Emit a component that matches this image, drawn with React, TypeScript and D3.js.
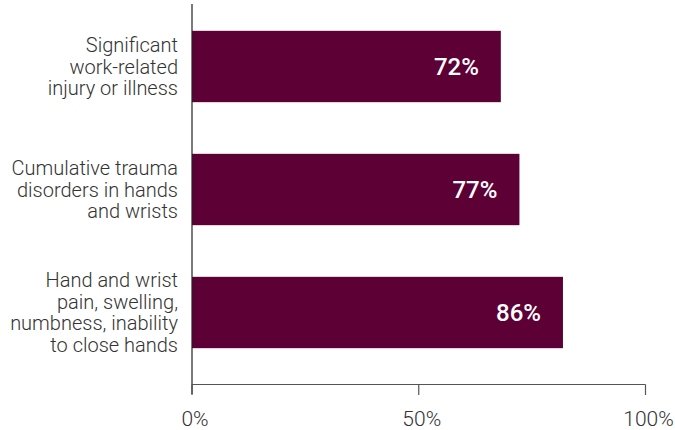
import React from "react";
import * as d3 from "d3";

const categories = [
  ["Significant", "work-related", "injury or illness"],
  ["Cumulative trauma", "disorders in hands", "and wrists"],
  ["Hand and wrist", "pain, swelling,", "numbness, inability", "to close hands"],
];
const barValues = [68.1, 72.2, 81.8];
const valueLabels = ["72%", "77%", "86%"];
const xTicks = [0, 50, 100];
const xTickLabels = ["0%", "50%", "100%"];

const W = 675;
const H = 430;
const BAR = "#5c0036";
const TEXT = "#333333";
const FONT = "Roboto, 'Noto Sans', sans-serif";

export default function App() {
  const x = d3.scaleLinear().domain([0, 100]).range([192, 645.5]);
  const ids = categories.map((_, i) => String(i));
  const y = d3.scaleBand().domain(ids).range([5, 374]).paddingInner(0.42).paddingOuter(0.21);
  const axisY = 384.5;
  const lineH = 21.5;

  return (
    <svg width={W} height={H} style={{ position: "absolute", left: 0, top: 0 }} fontFamily={FONT}>
      {categories.map((lines, i) => {
        const y0 = y(String(i))!;
        const bw = y.bandwidth();
        const cy = y0 + bw / 2;
        const start = cy - ((lines.length - 1) * lineH) / 2;
        return (
          <g key={i}>
            <rect x={x(0)} y={y0} width={x(barValues[i]) - x(0)} height={bw} fill={BAR} />
            <text
              x={x(barValues[i]) - 22}
              y={cy}
              dy="0.36em"
              textAnchor="end"
              fill="#ffffff"
              fontSize={24}
              fontWeight={500}
            >
              {valueLabels[i]}
            </text>
            <text textAnchor="end" fill={TEXT} fontSize={20} fontWeight={300}>
              {lines.map((l, j) => (
                <tspan key={j} x={178} y={start + j * lineH} dy="0.35em">
                  {l}
                </tspan>
              ))}
            </text>
          </g>
        );
      })}
      <line x1={x(0)} x2={x(0)} y1={4} y2={394} stroke="#222" strokeWidth={1.2} />
      <line x1={x(0)} x2={x(100)} y1={axisY} y2={axisY} stroke="#555" strokeWidth={1.2} />
      {xTicks.map((t, i) => (
        <g key={t}>
          <line x1={x(t)} x2={x(t)} y1={axisY} y2={395} stroke="#555" strokeWidth={1.2} />
          <text x={x(t) + 3} y={426} textAnchor="middle" fill={TEXT} fontSize={21} fontWeight={300}>
            {xTickLabels[i]}
          </text>
        </g>
      ))}
    </svg>
  );
}
